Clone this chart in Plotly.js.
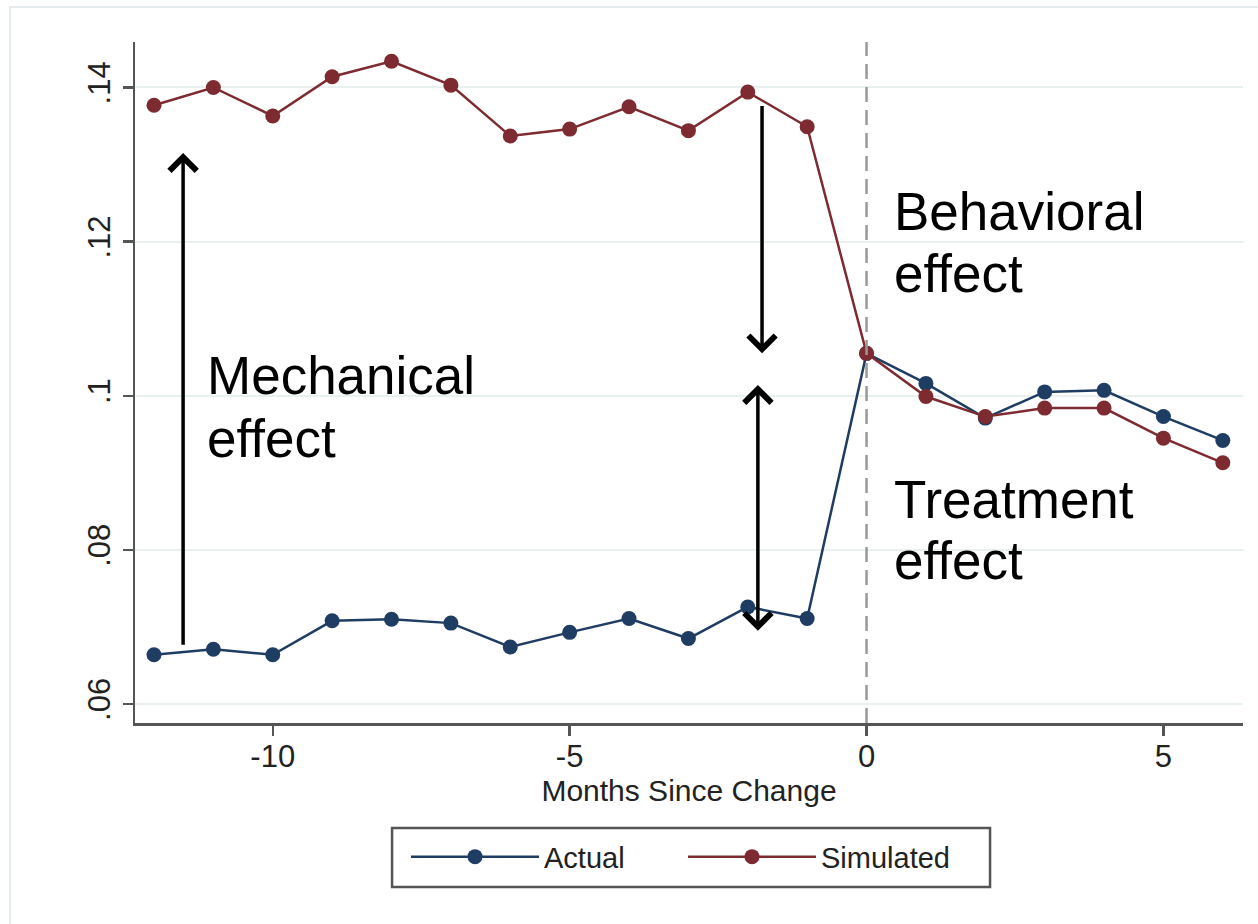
<!DOCTYPE html>
<html>
<head>
<meta charset="utf-8">
<script src="https://cdn.plot.ly/plotly-3.0.1.min.js"></script>
<style>
  html, body { margin: 0; padding: 0; background: #fff; }
  #chart { width: 1258px; height: 924px; }
</style>
</head>
<body>
<div id="chart"></div>
<script>
// months relative to the change
const months = [-12, -11, -10, -9, -8, -7, -6, -5, -4, -3, -2, -1, 0, 1, 2, 3, 4, 5, 6];
const actual = [0.0664, 0.0671, 0.0664, 0.0708, 0.0710, 0.0705, 0.0674, 0.0693, 0.0711, 0.0685,
                0.0726, 0.0711, 0.1055, 0.1016, 0.0971, 0.1005, 0.1007, 0.0973, 0.0942];
const simulated = [0.1377, 0.1400, 0.1363, 0.1414, 0.1434, 0.1403, 0.1337, 0.1346, 0.1375, 0.1344,
                   0.1394, 0.1349, 0.1055, 0.0999, 0.0973, 0.0984, 0.0984, 0.0945, 0.0913];
const yTicks = [0.06, 0.08, 0.10, 0.12, 0.14];
const yTickText = ['.06', '.08', '.1', '.12', '.14'];
const xTicks = [-10, -5, 0, 5];
const xTickText = ['-10', '-5', '0', '5'];

const FONT = '"Liberation Sans", Arial, sans-serif';
const BLUE = '#1f3d63';
const RED = '#7d2a30';

const traces = [
  {
    x: months, y: actual, name: 'Actual', type: 'scatter', mode: 'lines+markers',
    line: { color: BLUE, width: 2.5 },
    marker: { color: BLUE, size: 15 }
  },
  {
    x: months, y: simulated, name: 'Simulated', type: 'scatter', mode: 'lines+markers',
    line: { color: RED, width: 2.5 },
    marker: { color: RED, size: 15 }
  }
];

// text labels, one annotation per line
function label(text, x, y) {
  return {
    text: text, x: x, y: y, xref: 'x', yref: 'y',
    xanchor: 'left', yanchor: 'middle', showarrow: false,
    font: { family: FONT, size: 53, color: '#000' }
  };
}
// black arrows
function arrow(x, yFrom, yTo, both) {
  return {
    x: x, y: yTo, ax: x, ay: yFrom, xref: 'x', yref: 'y', axref: 'x', ayref: 'y',
    text: '', showarrow: true, arrowhead: 4, arrowsize: 1.5, arrowwidth: 3.5,
    arrowcolor: '#000', arrowside: both ? 'end+start' : 'end', startarrowhead: 4,
    startarrowsize: 1.5
  };
}

const annotations = [
  label('Mechanical', -11.14, 0.1026),
  label('effect', -11.14, 0.0944),
  label('Behavioral', 0.43, 0.1239),
  label('effect', 0.43, 0.1158),
  label('Treatment', 0.43, 0.0866),
  label('effect', 0.43, 0.0786),
  arrow(-11.51, 0.0675, 0.1315, false),
  arrow(-1.76, 0.1378, 0.1055, false),
  arrow(-1.83, 0.0693, 0.1014, true)
];

const shapes = [
  // outer frame
  { type: 'rect', xref: 'paper', yref: 'paper', x0: -0.1128, x1: 1.03, y0: -0.31, y1: 1.0514,
    line: { color: '#e4ecee', width: 2 }, layer: 'below' },
  // change month
  { type: 'line', xref: 'x', yref: 'paper', x0: 0, x1: 0, y0: 0, y1: 1,
    line: { color: '#999', width: 2.5, dash: '15px,8px' } },
  // legend box
  { type: 'rect', xref: 'paper', yref: 'paper', x0: 0.232, x1: 0.7717, y0: -0.2408, y1: -0.1542,
    line: { color: '#555', width: 2.5 } }
];

const layout = {
  width: 1258, height: 924,
  margin: { l: 135, r: 15, t: 42, b: 201 },
  paper_bgcolor: '#fff', plot_bgcolor: '#fff',
  font: { family: FONT, color: '#222' },
  showlegend: true,
  legend: {
    orientation: 'h', x: 0.2446, xanchor: 'left', y: -0.159, yanchor: 'top',
    font: { family: FONT, size: 29, color: '#222' },
    itemwidth: 128, entrywidth: 134, borderwidth: 0, bgcolor: 'rgba(0,0,0,0)'
  },
  xaxis: {
    range: [-12.32, 6.34], tickvals: xTicks, ticktext: xTickText, ticks: 'outside',
    ticklen: 10, tickwidth: 2.5, tickcolor: '#555',
    showline: true, linecolor: '#555', linewidth: 2.5,
    showgrid: false, zeroline: false, ticklabelstandoff: -6,
    tickfont: { family: FONT, size: 31, color: '#222' },
    title: { text: 'Months Since Change', font: { family: FONT, size: 30, color: '#222' }, standoff: 8 }
  },
  yaxis: {
    range: [0.05754, 0.1459], tickvals: yTicks, ticktext: yTickText, tickangle: -90,
    ticks: 'outside', ticklen: 10, tickwidth: 2.5, tickcolor: '#555',
    showline: true, linecolor: '#555', linewidth: 2.5,
    showgrid: true, gridcolor: '#e8f0f0', gridwidth: 2, zeroline: false,
    tickfont: { family: FONT, size: 31, color: '#222' }
  },
  annotations: annotations,
  shapes: shapes
};

Plotly.newPlot('chart', traces, layout, { displayModeBar: false, staticPlot: true });
</script>
</body>
</html>
